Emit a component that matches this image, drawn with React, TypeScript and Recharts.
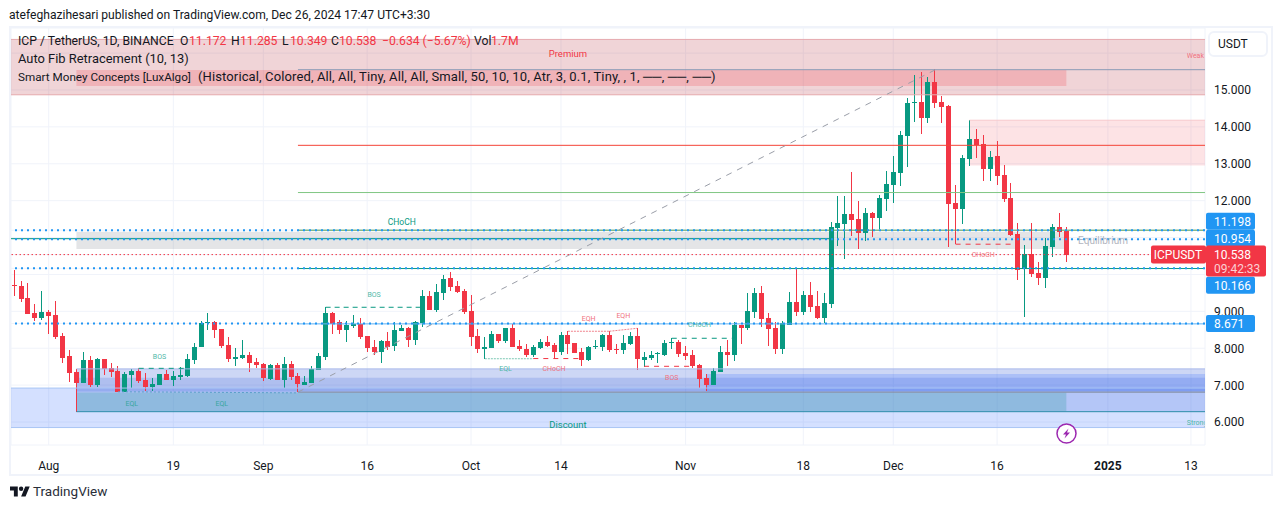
import { Bar, ComposedChart, CartesianGrid, ReferenceArea, ReferenceDot, ReferenceLine, XAxis, YAxis } from "recharts";

const UP = "#089981";
const DOWN = "#f23645";
const BLUE = "#2196f3";

// days counted from Jul 27 2024
const opens = [
  9.71, 9.69, 9.36, 8.95, 8.82, 8.98, 8.90, 8.33, 7.79, 7.36,
  7.06, 7.68, 7.00, 7.71, 7.46, 7.38, 6.81, 7.27, 7.38, 7.14,
  6.95, 7.00, 7.30, 7.14, 7.22, 7.25, 7.68, 8.03, 8.69, 8.71,
  8.52, 8.09, 7.71, 7.74, 7.82, 7.63, 7.57, 7.17, 7.55, 7.14,
  7.57, 7.25, 7.00, 7.06, 7.41, 7.76, 8.95, 8.71, 8.49, 8.60,
  8.66, 8.33, 8.03, 7.90, 8.20, 8.06, 8.47, 8.55, 8.22, 8.68,
  9.41, 9.04, 9.50, 9.90, 9.69, 9.55, 9.01, 8.33, 7.98, 8.01,
  8.39, 8.20, 8.55, 8.06, 7.98, 7.82, 8.01, 8.17, 8.09, 7.90,
  8.36, 8.14, 7.90, 7.68, 8.03, 8.03, 8.36, 7.97, 7.95, 8.11,
  8.33, 7.68, 7.73, 7.84, 7.81, 8.15, 8.17, 7.87, 7.81, 7.54,
  7.19, 7.00, 7.36, 7.90, 7.81, 8.63, 8.55, 8.98, 9.50, 8.82,
  8.55, 7.98, 8.63, 9.25, 8.98, 9.44, 9.14, 8.82, 9.20, 11.26,
  11.37, 11.64, 11.50, 11.12, 11.66, 11.53, 12.04, 12.42, 12.75, 13.75,
  14.64, 14.67, 14.24, 15.21, 14.67, 14.56, 11.93, 11.77, 13.13, 13.67,
  13.53, 12.86, 13.21, 12.69, 12.07, 11.09, 10.15, 10.55, 10.04, 9.90,
  10.74, 11.28, 11.172,
];
const highs = [
  10.12, 9.82, 9.77, 9.20, 9.55, 9.04, 9.28, 8.41, 7.95, 7.44,
  7.90, 7.79, 7.74, 7.71, 7.60, 7.52, 7.36, 7.44, 7.46, 7.33,
  7.19, 7.30, 7.41, 7.38, 7.49, 7.84, 8.14, 8.74, 8.95, 8.74,
  8.52, 8.30, 8.01, 8.22, 7.90, 7.74, 7.60, 7.57, 7.60, 7.76,
  7.65, 7.33, 7.25, 7.52, 7.87, 9.12, 8.98, 8.77, 8.74, 8.90,
  8.82, 8.33, 8.22, 8.22, 8.44, 8.71, 8.63, 8.58, 8.74, 9.58,
  9.55, 9.74, 9.98, 10.06, 9.82, 9.60, 9.44, 8.52, 8.30, 8.47,
  8.39, 8.55, 8.66, 8.22, 8.11, 8.09, 8.25, 8.33, 8.14, 8.44,
  8.47, 8.14, 8.01, 8.06, 8.22, 8.39, 8.47, 8.11, 8.36, 8.44,
  8.55, 7.90, 7.92, 7.90, 8.22, 8.28, 8.22, 8.06, 7.95, 7.57,
  7.30, 7.46, 8.06, 8.22, 8.71, 8.63, 9.50, 9.63, 9.69, 8.95,
  8.71, 8.75, 9.52, 10.15, 9.55, 9.79, 9.55, 9.50, 11.42, 12.12,
  12.12, 12.78, 11.99, 11.80, 11.69, 12.15, 12.80, 13.21, 13.89, 14.78,
  15.40, 15.49, 15.35, 15.57, 14.83, 14.59, 12.42, 13.24, 14.18, 13.94,
  13.78, 13.34, 13.62, 12.96, 12.48, 11.39, 10.80, 11.39, 10.34, 10.99,
  11.37, 11.66, 11.285,
];
const lows = [
  9.41, 9.25, 8.93, 8.74, 8.77, 8.39, 8.25, 7.60, 7.09, 6.27,
  7.06, 6.95, 6.95, 7.27, 7.22, 6.81, 6.81, 6.92, 7.06, 6.84,
  6.84, 7.00, 7.14, 6.98, 7.14, 7.22, 7.57, 8.03, 8.49, 8.28,
  8.01, 7.63, 7.52, 7.71, 7.36, 7.46, 7.11, 7.14, 7.14, 6.92,
  7.14, 6.81, 7.00, 7.06, 7.41, 7.68, 8.39, 8.39, 8.17, 8.55,
  8.25, 7.90, 7.82, 7.60, 7.95, 7.92, 8.47, 8.03, 8.09, 8.58,
  9.04, 8.98, 9.31, 9.55, 9.50, 8.93, 8.06, 7.87, 7.71, 8.01,
  8.14, 8.14, 8.03, 7.92, 7.76, 7.76, 7.98, 8.03, 7.71, 7.82,
  7.84, 7.87, 7.52, 7.65, 7.98, 7.92, 7.90, 7.84, 7.84, 8.09,
  7.41, 7.49, 7.68, 7.60, 7.79, 7.98, 7.76, 7.68, 7.46, 6.92,
  6.84, 7.00, 7.36, 7.52, 7.65, 8.11, 8.49, 8.82, 8.57, 8.06,
  7.84, 7.84, 8.63, 8.87, 8.90, 8.98, 8.79, 8.68, 9.09, 10.77,
  10.42, 11.04, 10.69, 10.91, 11.01, 11.23, 11.72, 11.93, 12.40, 12.91,
  14.13, 13.80, 14.10, 14.51, 14.10, 10.74, 10.82, 11.37, 12.94, 13.15,
  12.53, 12.53, 12.42, 11.96, 11.04, 9.85, 8.85, 9.93, 9.71, 9.63,
  10.47, 11.01, 10.349,
];
const closes = [
  9.69, 9.33, 8.93, 8.82, 8.98, 8.87, 8.30, 7.74, 7.33, 7.06,
  7.68, 7.00, 7.71, 7.44, 7.36, 6.81, 7.30, 7.38, 7.11, 6.95,
  7.03, 7.30, 7.14, 7.25, 7.27, 7.71, 8.03, 8.68, 8.71, 8.49,
  8.06, 7.71, 7.76, 7.82, 7.60, 7.55, 7.19, 7.55, 7.14, 7.57,
  7.22, 7.03, 7.09, 7.44, 7.79, 8.95, 8.66, 8.49, 8.63, 8.66,
  8.30, 8.01, 7.90, 8.20, 8.03, 8.49, 8.55, 8.22, 8.71, 9.41,
  9.04, 9.52, 9.88, 9.66, 9.52, 8.98, 8.30, 7.98, 8.03, 8.39,
  8.20, 8.55, 8.03, 7.98, 7.82, 8.03, 8.17, 8.06, 7.90, 8.36,
  8.11, 7.87, 7.68, 8.03, 8.05, 8.36, 7.95, 7.95, 8.14, 8.33,
  7.71, 7.76, 7.81, 7.86, 8.14, 8.17, 7.84, 7.79, 7.52, 7.16,
  7.00, 7.38, 7.90, 7.81, 8.63, 8.55, 9.01, 9.50, 8.79, 8.52,
  7.98, 8.68, 9.25, 8.98, 9.44, 9.12, 8.82, 9.22, 11.28, 11.39,
  11.64, 11.47, 11.12, 11.66, 11.53, 12.07, 12.45, 12.78, 13.78, 14.64,
  14.67, 14.24, 15.21, 14.64, 14.54, 11.91, 11.77, 13.15, 13.67, 13.51,
  12.86, 13.18, 12.67, 12.04, 11.07, 10.12, 10.55, 10.01, 9.90, 10.77,
  11.28, 11.15, 10.538,
];

const xTicks = [5, 23, 36, 51, 66, 79, 97, 114, 127, 142, 158, 170];
const xTickLabels = ["Aug", "19", "Sep", "16", "Oct", "14", "Nov", "18", "Dec", "16", "2025", "13"];
const priceTicks = [6, 7, 8, 9, 10, 11, 12, 13, 14, 15, 16];
// grid lines only, the tags and the USDT button sit on these
const unlabelledTicks = [10, 11, 16];

const lastPrice = 10.538;
const blueLevels = [11.198, 10.954, 10.166, 8.671];

const rows = opens.map((open, i) => ({
  day: i,
  open,
  close: closes[i],
  range: [lows[i], highs[i]],
}));

const X_MIN = -0.45;
const X_MAX = 172.03;

// x1, x2, top price, bottom price, fill, opacity
const zones: [number, number, number, number, string, number][] = [
  [X_MIN, X_MAX, 16.37, 14.87, "#b42837", 0.2],
  [9, 152, 15.54, 15.11, "#f0343c", 0.2],
  [138, X_MAX, 14.18, 12.95, "#f23645", 0.14],
  [9, 152, 11.157, 10.69, "#787b86", 0.2],
  [X_MIN, X_MAX, 6.92, 5.85, "#2962ff", 0.2],
  [9, X_MAX, 7.44, 6.8, "#375fd7", 0.25],
  [9, X_MAX, 7.2, 6.83, "#375fd7", 0.2],
  [100, X_MAX, 7.3, 6.83, "#2962ff", 0.2],
  [9, X_MAX, 6.8, 6.29, "#375fd7", 0.2],
  [9, 152, 6.8, 6.29, "#3ca0aa", 0.3],
];

// x1, x2, price, colour
const solidLines: [number, number, number, string][] = [
  [41, X_MAX, 15.55, "#8a9ab5"],
  [41, X_MAX, 13.5, "#f44336"],
  [41, X_MAX, 12.22, "#81c784"],
  [41, X_MAX, 11.2, "#4c9a52"],
  [X_MIN, 118, 10.97, UP],
  [41, X_MAX, 10.16, UP],
  [41, X_MAX, 8.66, "#64b5f6"],
  [41, X_MAX, 6.81, "#808a9a"],
  [9, X_MAX, 6.28, "#2a8aa8"],
];

// x1, price1, x2, price2, colour, dash
const structureLines: [number, number, number, number, string, string][] = [
  [18, 7.455, 25, 7.455, UP, "5 5"],
  [15, 6.82, 41, 6.79, "#5aa0c8", "2 2"],
  [45, 9.11, 59, 9.11, UP, "5 4"],
  [68, 7.715, 75, 7.715, "#7cc8b4", "2 1"],
  [75, 7.72, 82, 7.72, DOWN, "5 5"],
  [80, 8.46, 86, 8.46, "#f0828c", "2 1"],
  [86, 8.46, 90, 8.54, "#f0828c", "2 1"],
  [91, 7.51, 98, 7.51, DOWN, "5 5"],
  [95, 8.27, 104, 8.27, UP, "5 5"],
  [136, 10.82, 145, 10.82, DOWN, "5 5"],
  [41, 6.81, 133, 15.54, "#9a9ea8", "6 6"],
];

// text, day, price, colour, font size
const smcLabels: [string, number, number, string, number][] = [
  ["Premium", 80, 16.0, DOWN, 9.5],
  ["Discount", 80, 5.92, UP, 9.5],
  ["Equilibrium", 157.3, 10.93, "#b2b5be", 10],
  ["CHoCH", 56, 11.41, UP, 8.5],
  ["BOS", 21, 7.77, "#4fb8a8", 7],
  ["EQL", 17, 6.5, "#3aa6a0", 7],
  ["EQL", 30, 6.5, "#3aa6a0", 7],
  ["BOS", 52, 9.45, "#4fb8a8", 7],
  ["EQL", 71, 7.43, "#4fb8a8", 7],
  ["CHoCH", 78, 7.43, "#f0727e", 7],
  ["EQH", 83, 8.8, "#f0727e", 7],
  ["EQH", 88, 8.87, "#f0727e", 7],
  ["CHoCH", 99, 8.62, "#4fb8a8", 7],
  ["BOS", 95, 7.2, "#f0727e", 7],
  ["CHoCH", 140, 10.54, "#f0727e", 7],
];

// text, left edge in the legend row, colour
const legendRow: [string, number, string][] = [
  ["ICP / TetherUS, 1D, BINANCE", 18, "#131722"],
  ["O", 180, "#131722"],
  ["11.172", 189, DOWN],
  ["H", 231, "#131722"],
  ["11.285", 240, DOWN],
  ["L", 282, "#131722"],
  ["10.349", 290, DOWN],
  ["C", 331, "#131722"],
  ["10.538", 339, DOWN],
  ["−0.634 (−5.67%)", 382, DOWN],
  ["Vol", 474, "#131722"],
  ["1.7M", 491, DOWN],
];

// the tags are pushed apart so they do not sit on each other
const tagShift: Record<number, number> = { 11.198: -9, 10.954: -1, 10.166: 17, 8.671: 0 };

const Candle = (props: any) => {
  const { x, y, width, height, payload } = props;
  const [low, high] = payload.range;
  const perPrice = Math.abs(height) / (high - low);
  const top = Math.min(y, y + height);
  const cx = Math.floor(x + width / 2);
  const bodyTop = top + (high - Math.max(payload.open, payload.close)) * perPrice;
  const bodyH = Math.abs(payload.open - payload.close) * perPrice;
  const color = payload.close >= payload.open ? UP : DOWN;
  return (
    <g shapeRendering="crispEdges">
      <rect x={cx} y={top} width={1} height={Math.abs(height)} fill={color} />
      <rect x={cx - 2} y={bodyTop} width={5} height={Math.max(bodyH, 1)} fill={color} />
    </g>
  );
};

const DayTick = ({ x, y, payload }: any) => {
  const label = xTickLabels[xTicks.indexOf(payload.value)];
  return (
    <text x={x} y={y} textAnchor="middle" dominantBaseline="central" fontSize={12} fill="#131722" fontWeight={label === "2025" ? 700 : 400}>
      {label}
    </text>
  );
};

const PriceTick = ({ y, payload }: any) => {
  const v = payload.value;
  if (unlabelledTicks.includes(v)) return null;
  if (v === lastPrice) {
    return (
      <g>
        <rect x={1151} y={y - 9} width={55} height={18} fill={DOWN} rx={2} />
        <text x={1178} y={y + 0.5} textAnchor="middle" dominantBaseline="central" fontSize={12} fill="#fff">ICPUSDT</text>
        <rect x={1206} y={y - 9} width={60} height={31} fill={DOWN} rx={2} />
        <text x={1214} y={y + 0.5} dominantBaseline="central" fontSize={12} fill="#fff">{v.toFixed(3)}</text>
        <text x={1214} y={y + 14} dominantBaseline="central" fontSize={12} fill="#fbd0d4">09:42:33</text>
      </g>
    );
  }
  if (blueLevels.includes(v)) {
    const c = y + tagShift[v];
    return (
      <g>
        <rect x={1206} y={c - 8.5} width={49} height={17} fill={BLUE} rx={2} />
        <text x={1214} y={c + 0.5} dominantBaseline="central" fontSize={12} fill="#fff">{v.toFixed(3)}</text>
      </g>
    );
  }
  return (
    <text x={1214} y={y + 0.4} dominantBaseline="central" fontSize={12} fill="#131722">
      {v.toFixed(3)}
    </text>
  );
};

const SmcText = (text: string, color: string, size: number) => (p: any) => (
  <text x={p.cx} y={p.cy} textAnchor="middle" dominantBaseline="central" fontSize={size} fill={color}>
    {text}
  </text>
);

// these two run into the price scale and are cut by it
const EdgeText = (text: string, color: string) => (p: any) => (
  <svg x={p.cx - 9} y={p.cy - 8} width={18} height={16}>
    <text x={0} y={8} dominantBaseline="central" fontSize={7} fill={color}>{text}</text>
  </svg>
);

export default function App() {
  return (
    <div style={{ position: "absolute", left: 0, top: 0, width: 1281, height: 509, background: "#fff", fontFamily: "Roboto, sans-serif", color: "#131722", overflow: "hidden" }}>
      <div style={{ position: "absolute", left: 9, top: 8, fontSize: 12.1, whiteSpace: "nowrap" }}>
        atefeghazihesari published on TradingView.com, Dec 26, 2024 17:47 UTC+3:30
      </div>
      <div style={{ position: "absolute", left: 9, top: 26, width: 1260, height: 446, border: "2px solid #f0f3fa" }} />
      <div style={{ position: "absolute", left: 0, top: 0 }}>
        <ComposedChart width={1281} height={509} data={rows} margin={{ top: 28, left: 11, right: 11, bottom: 35 }} barCategoryGap={0}>
          <CartesianGrid stroke="#f0f3fa" />
          <XAxis
            dataKey="day"
            type="number"
            domain={[X_MIN, X_MAX]}
            ticks={xTicks}
            height={29}
            axisLine={false}
            tickLine={false}
            tick={<DayTick />}
            tickMargin={15}
            interval={0}
          />
          <YAxis
            orientation="right"
            width={65}
            domain={[5.377, 16.68]}
            ticks={[...priceTicks, ...blueLevels, lastPrice]}
            axisLine={false}
            tickLine={false}
            tick={<PriceTick />}
            interval={0}
          />
          {zones.map(([x1, x2, y1, y2, fill, opacity], i) => (
            <ReferenceArea key={"z" + i} x1={x1} x2={x2} y1={y1} y2={y2} fill={fill} fillOpacity={opacity} stroke="none" />
          ))}
          <ReferenceLine y={16.37} stroke="#e6a9ae" />
          <ReferenceLine y={14.87} stroke="#e6a9ae" />
          <ReferenceLine segment={[{ x: 138, y: 14.18 }, { x: X_MAX, y: 14.18 }]} stroke="#f7c9cc" />
          <ReferenceLine y={6.92} stroke="#a9c5f5" />
          <ReferenceLine y={5.85} stroke="#a9c5f5" />
          <ReferenceLine segment={[{ x: 9, y: 7.44 }, { x: X_MAX, y: 7.44 }]} stroke="#a9b8ea" />
          {solidLines.map(([x1, x2, y, stroke], i) => (
            <ReferenceLine key={"s" + i} segment={[{ x: x1, y }, { x: x2, y }]} stroke={stroke} />
          ))}
          {structureLines.map(([x1, y1, x2, y2, stroke, dash], i) => (
            <ReferenceLine key={"d" + i} segment={[{ x: x1, y: y1 }, { x: x2, y: y2 }]} stroke={stroke} strokeDasharray={dash} />
          ))}
          {blueLevels.map((v) => (
            <ReferenceLine key={v} y={v} stroke={BLUE} strokeWidth={2} strokeDasharray="2 4" />
          ))}
          <ReferenceLine y={lastPrice} stroke={DOWN} strokeDasharray="1.5 2.5" />
          {smcLabels.map(([text, x, y, color, size], i) => (
            <ReferenceDot key={"t" + i} x={x} y={y} r={1} shape={SmcText(text, color, size)} />
          ))}
          <ReferenceDot x={170.7} y={15.92} r={1} shape={EdgeText("Weak", "#f0727e")} />
          <ReferenceDot x={170.7} y={5.965} r={1} shape={EdgeText("Strong", "#4fb8a8")} />
          <Bar dataKey="range" barSize={5} shape={<Candle />} isAnimationActive={false} />
        </ComposedChart>
      </div>
      {legendRow.map(([text, left, color], i) => (
        <div key={i} style={{ position: "absolute", left, top: 34, fontSize: 12.2, lineHeight: "14px", color, whiteSpace: "pre" }}>{text}</div>
      ))}
      <div style={{ position: "absolute", left: 18, top: 52, fontSize: 12.9, lineHeight: "14px", whiteSpace: "pre" }}>Auto Fib Retracement (10, 13)</div>
      <div style={{ position: "absolute", left: 18, top: 70, fontSize: 11.7, lineHeight: "14px", whiteSpace: "pre" }}>Smart Money Concepts [LuxAlgo]</div>
      <div style={{ position: "absolute", left: 198, top: 70, fontSize: 13, letterSpacing: 0.12, lineHeight: "14px", whiteSpace: "pre" }}>(Historical, Colored, All, All, Tiny, All, All, Small, 50, 10, 10, Atr, 3, 0.1, Tiny, , 1, ──, ──, ──)</div>
      <div style={{ position: "absolute", left: 1208, top: 31, width: 56, height: 22, border: "2px solid #f0f3fa", borderRadius: 6, background: "#fff", fontSize: 12, lineHeight: "22px", textIndent: 8 }}>
        USDT
      </div>
      <svg style={{ position: "absolute", left: 1056, top: 423 }} width={21} height={21}>
        <circle cx={10.5} cy={10.5} r={9.5} fill="#fff" stroke="#9c27b0" strokeWidth={1.5} />
        <path d="M12.5 5.5 L7 11.5 H10 L8.5 15.5 L14 9.5 H11 Z" fill="#9c27b0" />
      </svg>
      <svg style={{ position: "absolute", left: 10, top: 486 }} width={20} height={11} viewBox="0 4 36 18">
        <path d="M14 22H7V11H0V4h14v18zM28 22h-8l7.5-18h8L28 22z" fill="#131722" />
        <circle cx={20} cy={8} r={4} fill="#131722" />
      </svg>
      <div style={{ position: "absolute", left: 33, top: 483, fontSize: 13.5, color: "#2a2e39" }}>TradingView</div>
    </div>
  );
}
